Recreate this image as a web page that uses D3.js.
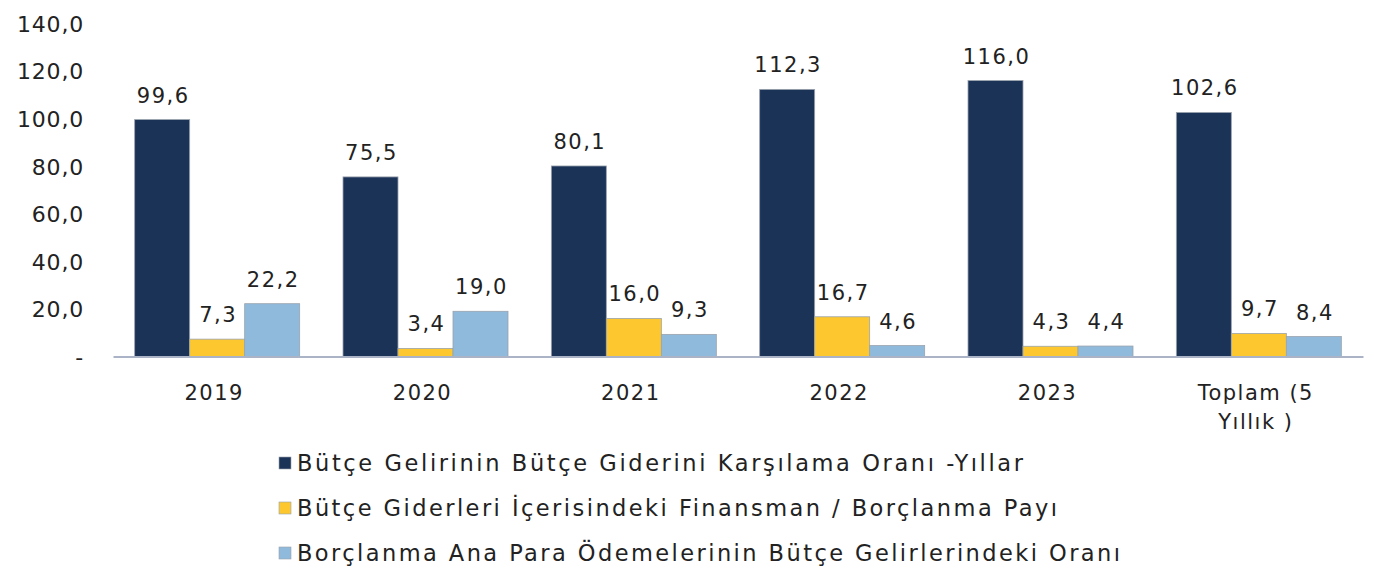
<!DOCTYPE html>
<html><head><meta charset="utf-8">
<script src="https://cdn.jsdelivr.net/npm/d3@7"></script>
<style>body{margin:0;background:#fff}svg{display:block}text{font-family:"DejaVu Sans",sans-serif;fill:#222}</style>
</head><body><svg id="c" width="1374" height="574"></svg>
<script>
const categories = ["2019","2020","2021","2022","2023","Toplam (5\nYıllık )"];
const seriesNames = [
  "Bütçe Gelirinin Bütçe  Giderini  Karşılama Oranı -Yıllar",
  "Bütçe Giderleri İçerisindeki Finansman / Borçlanma Payı",
  "Borçlanma Ana Para Ödemelerinin Bütçe Gelirlerindeki Oranı"
];
const karsilama = [99.6, 75.5, 80.1, 112.3, 116.0, 102.6];
const finansman = [7.3, 3.4, 16.0, 16.7, 4.3, 9.7];
const anaPara = [22.2, 19.0, 9.3, 4.6, 4.4, 8.4];
const yTicks = [0, 20, 40, 60, 80, 100, 120, 140];
const colors = ["#1c3358", "#fdc82f", "#8fbadc"];
const legendWidths = [726, 760, 823];

const series = [karsilama, finansman, anaPara];
const svg = d3.select("#c");
const fmt = v => v === 0 ? "-" : v.toFixed(1).replace(".", ",");

const x = d3.scaleBand().domain(categories).range([113, 1363]);
const xs = d3.scaleBand().domain([0,1,2]).range([0, 165]);
const y = d3.scaleLinear().domain([0, 140]).range([356.5, 23.5]);

// y axis labels
const yAxis = d3.axisLeft(y).tickValues(yTicks).tickSize(0).tickPadding(0).tickFormat(fmt);
const ya = svg.append("g").attr("transform", "translate(84,0)").call(yAxis);
ya.select(".domain").remove();
ya.selectAll("text").style("font-size", "22px").style("font-family", "'DejaVu Sans',sans-serif")
  .style("letter-spacing", "0.8px").attr("fill", "#222").attr("dy", "0.36em");

// bars
categories.forEach((c, i) => {
  const g = svg.append("g").attr("transform", `translate(${x(c) + (x.bandwidth() - 165) / 2},0)`);
  series.forEach((s, j) => {
    g.append("rect").attr("x", xs(j)).attr("width", xs.bandwidth())
      .attr("y", y(s[i])).attr("height", y(0) - y(s[i]))
      .attr("fill", colors[j]).attr("stroke", "#9aa3ad").attr("stroke-width", 0.8);
    g.append("text").attr("x", xs(j) + xs.bandwidth() / 2 + 1).attr("y", y(s[i]) - 17)
      .attr("text-anchor", "middle").style("font-size", "21px").style("letter-spacing", "1.5px").text(fmt(s[i]));
  });
});

// x axis
const xAxis = d3.axisBottom(x).tickSize(0).tickFormat("");
const xa = svg.append("g").attr("transform", `translate(0,${y(0)})`).call(xAxis);
xa.select(".domain").attr("stroke", "#aab4c6").attr("stroke-width", 2);
categories.forEach(c => {
  const lines = c.split("\n");
  const t = svg.append("text").attr("text-anchor", "middle").style("font-size", "21px").style("letter-spacing", "1.5px");
  lines.forEach((l, k) => t.append("tspan").attr("x", x(c) + x.bandwidth() / 2 - 3).attr("y", 400 + k * 29).text(l));
});

// legend
const lg = svg.append("g");
seriesNames.forEach((n, j) => {
  const yy = 463 + j * 45;
  lg.append("rect").attr("x", 279).attr("y", yy - 6).attr("width", 12).attr("height", 12).attr("fill", colors[j]).attr("stroke", "#9aa3ad").attr("stroke-width", 0.6);
  lg.append("text").attr("x", 297).attr("y", yy + 8).style("font-size", "22.5px")
    .attr("textLength", legendWidths[j]).attr("lengthAdjust", "spacing").text(n);
});
</script></body></html>
